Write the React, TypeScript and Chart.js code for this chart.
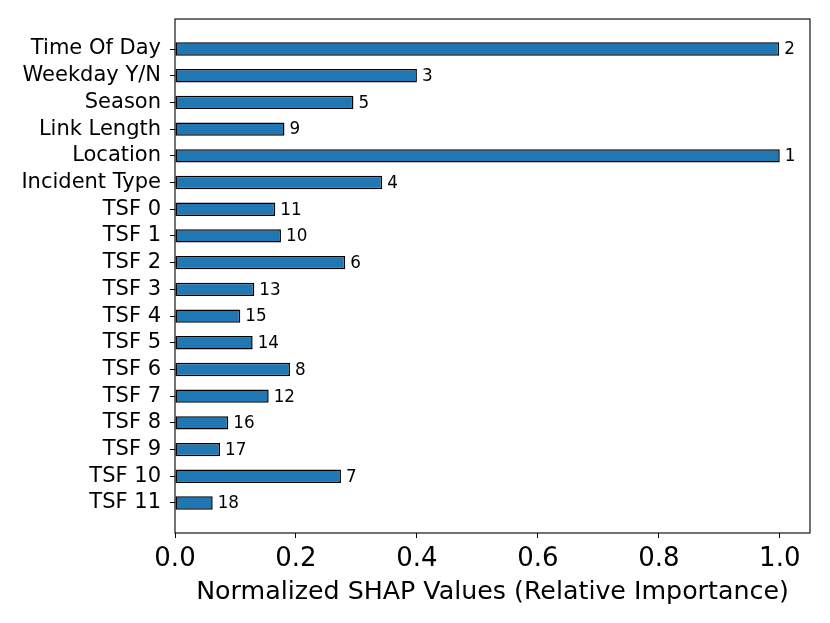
import React, { useEffect, useRef } from "react";
import { Chart, registerables } from "chart.js";

Chart.register(...registerables);

const features = [
  "Time Of Day", "Weekday Y/N", "Season", "Link Length", "Location", "Incident Type",
  "TSF 0", "TSF 1", "TSF 2", "TSF 3", "TSF 4", "TSF 5", "TSF 6", "TSF 7", "TSF 8", "TSF 9", "TSF 10", "TSF 11",
];
const shapValues = [
  0.999, 0.400, 0.295, 0.181, 1.0, 0.3426,
  0.1658, 0.1752, 0.2815, 0.1311, 0.1079, 0.1284, 0.1901, 0.1549, 0.0881, 0.0744, 0.2744, 0.0623,
];
const ranks = [2, 3, 5, 9, 1, 4, 11, 10, 6, 13, 15, 14, 8, 12, 16, 17, 7, 18];
const xTicks = [0, 0.2, 0.4, 0.6, 0.8, 1.0];
const xTitle = "Normalized SHAP Values (Relative Importance)";

const FONT = "'DejaVu Sans', sans-serif";

export default function App() {
  const ref = useRef<HTMLCanvasElement | null>(null);
  useEffect(() => {
    if (!ref.current) return;
    const n = features.length;
    const ext = n - 0.5;
    const yMin = -0.25 - 0.05 * ext;
    const yMax = n - 1 + 0.25 + 0.05 * ext;
    const xMax = Math.max(...shapValues) * 1.05;

    const rankPlugin = {
      id: "rankLabels",
      afterDatasetsDraw(chart: any) {
        const ctx = chart.ctx;
        const meta = chart.getDatasetMeta(0);
        ctx.save();
        ctx.font = `16.8px ${FONT}`;
        ctx.fillStyle = "#000";
        ctx.textAlign = "left";
        ctx.textBaseline = "middle";
        meta.data.forEach((el: any, i: number) => {
          ctx.fillText(String(ranks[i]), el.x + 5, el.y + 1);
        });
        const a = chart.chartArea;
        ctx.strokeStyle = "#000";
        ctx.lineWidth = 1.1;
        ctx.strokeRect(a.left, a.top, a.right - a.left, a.bottom - a.top);
        ctx.restore();
      },
    };

    const chart = new Chart(ref.current, {
      type: "bar",
      data: {
        datasets: [
          {
            data: shapValues.map((v, i) => ({ x: v, y: i })),
            backgroundColor: "#1f77b4",
            borderColor: "#000",
            borderWidth: 1.5,
            borderSkipped: false,
            categoryPercentage: 1.0,
            barPercentage: 0.5,
          },
        ],
      },
      options: {
        indexAxis: "y",
        animation: false,
        responsive: false,
        maintainAspectRatio: false,
        layout: { padding: { top: 11, right: 12, left: 0, bottom: 0 } },
        plugins: { legend: { display: false }, tooltip: { enabled: false } },
        scales: {
          y: {
            type: "linear",
            reverse: true,
            offset: false,
            min: yMin,
            max: yMax,
            afterBuildTicks: (scale: any) => {
              scale.ticks = features.map((_, i) => ({ value: i }));
            },
            afterFit: (scale: any) => {
              scale.width = 167;
              scale.paddingTop = 0;
              scale.paddingBottom = 0;
            },
            ticks: {
              callback: (v: any) => features[v] ?? "",
              color: "#000",
              font: { family: FONT, size: 21 },
              padding: 9,
              autoSkip: false,
            },
            grid: { offset: false, drawOnChartArea: false, tickLength: 5, tickColor: "#000", color: "#000" },
            border: { display: false },
          },
          x: {
            type: "linear",
            min: 0,
            max: xMax,
            afterBuildTicks: (scale: any) => {
              scale.ticks = xTicks.map((v) => ({ value: v }));
            },
            afterFit: (scale: any) => {
              scale.height = 82;
              scale.paddingLeft = 0;
              scale.paddingRight = 0;
            },
            ticks: {
              callback: (v: any) => Number(v).toFixed(1),
              color: "#000",
              font: { family: FONT, size: 26 },
              padding: 6,
              maxRotation: 0,
            },
            grid: { drawOnChartArea: false, tickLength: 5, tickColor: "#000", color: "#000" },
            border: { display: false },
            title: {
              display: true,
              text: xTitle,
              color: "#000",
              font: { family: FONT, size: 25.3 },
              padding: { top: 0, bottom: 7 },
            },
          },
        },
      },
      plugins: [rankPlugin],
    } as any);
    return () => chart.destroy();
  }, []);
  return (
    <div style={{ width: 814, height: 607 }}>
      <canvas ref={ref} width={814} height={607} style={{ display: "block" }} />
    </div>
  );
}
